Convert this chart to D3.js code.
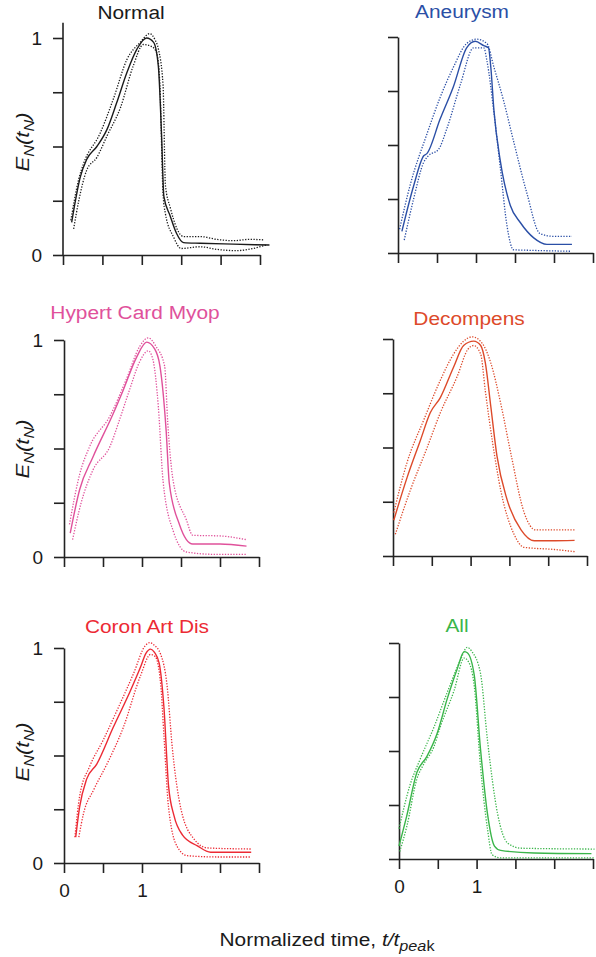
<!DOCTYPE html>
<html>
<head>
<meta charset="utf-8">
<script src="https://cdn.jsdelivr.net/npm/d3@7"></script>
<style>
  body { margin: 0; background: #fff; }
  text { font-family: "Liberation Sans", Arial, sans-serif; }
</style>
</head>
<body>
<div id="chart"></div>
<script>
// ticks
let xTicks = [0, 0.5, 1, 1.5, 2, 2.5];
let yTicks = [0, 0.25, 0.5, 0.75, 1];

// [t, E] pairs
let normalMean = [[0.11,0.15],[0.22,0.36],[0.30,0.44],[0.43,0.50],[0.56,0.58],[0.68,0.70],[0.81,0.84],[0.94,0.95],[1.06,1.0],[1.15,0.98],[1.21,0.87],[1.25,0.56],[1.28,0.27],[1.36,0.18],[1.44,0.10],[1.53,0.057],[1.74,0.054],[2.16,0.05],[2.62,0.046]];
let normalUpper = [[0.10,0.16],[0.20,0.35],[0.26,0.42],[0.47,0.56],[0.64,0.72],[0.81,0.90],[0.98,0.98],[1.10,1.02],[1.17,0.99],[1.21,0.95],[1.27,0.78],[1.30,0.32],[1.36,0.22],[1.53,0.085],[1.74,0.085],[1.95,0.072],[2.16,0.066],[2.37,0.072],[2.54,0.07]];
let normalLower = [[0.135,0.12],[0.20,0.25],[0.30,0.39],[0.43,0.45],[0.56,0.55],[0.73,0.68],[0.89,0.87],[1.02,0.97],[1.13,0.96],[1.19,0.93],[1.23,0.78],[1.27,0.28],[1.30,0.19],[1.40,0.085],[1.50,0.03],[1.74,0.038],[1.95,0.026],[2.20,0.02],[2.41,0.03],[2.58,0.046]];

let aneurysmMean = [[0.05,0.10],[0.20,0.31],[0.33,0.45],[0.37,0.46],[0.54,0.62],[0.71,0.77],[0.88,0.95],[0.99,0.98],[1.10,0.96],[1.16,0.95],[1.19,0.86],[1.23,0.66],[1.31,0.43],[1.44,0.22],[1.57,0.14],[1.74,0.07],[1.91,0.04],[2.23,0.04]];
let aneurysmUpper = [[0.02,0.11],[0.16,0.32],[0.37,0.55],[0.54,0.72],[0.71,0.86],[0.88,0.97],[1.01,0.99],[1.14,0.97],[1.23,0.86],[1.35,0.71],[1.48,0.52],[1.65,0.28],[1.82,0.09],[2.0,0.077],[2.23,0.077]];
let aneurysmLower = [[0.08,0.06],[0.20,0.25],[0.33,0.42],[0.39,0.45],[0.52,0.48],[0.63,0.58],[0.80,0.78],[0.97,0.95],[1.10,0.95],[1.14,0.89],[1.23,0.65],[1.31,0.40],[1.40,0.12],[1.48,0.015],[1.74,0.012],[2.21,0.008]];

let hypertMean = [[0.08,0.11],[0.20,0.31],[0.37,0.46],[0.63,0.66],[0.76,0.77],[0.93,0.92],[1.06,0.99],[1.16,0.96],[1.23,0.88],[1.31,0.58],[1.35,0.34],[1.48,0.15],[1.65,0.06],[2.0,0.06],[2.34,0.05]];
let hypertUpper = [[0.07,0.15],[0.20,0.38],[0.33,0.51],[0.59,0.65],[0.80,0.82],[0.97,0.97],[1.08,1.01],[1.18,0.97],[1.29,0.88],[1.33,0.62],[1.40,0.35],[1.57,0.17],[1.65,0.10],[2.0,0.097],[2.34,0.08]];
let hypertLower = [[0.11,0.08],[0.22,0.25],[0.37,0.40],[0.59,0.51],[0.71,0.63],[0.84,0.77],[0.97,0.90],[1.08,0.95],[1.14,0.91],[1.21,0.69],[1.27,0.35],[1.40,0.12],[1.57,0.023],[1.95,0.012],[2.34,0.012]];

let decompMean = [[0.01,0.165],[0.18,0.36],[0.35,0.53],[0.48,0.66],[0.61,0.73],[0.78,0.87],[0.91,0.97],[1.04,0.99],[1.13,0.97],[1.19,0.89],[1.26,0.69],[1.34,0.46],[1.47,0.26],[1.65,0.12],[1.82,0.07],[2.03,0.07],[2.34,0.072]];
let decompUpper = [[0.01,0.20],[0.18,0.43],[0.40,0.63],[0.61,0.81],[0.78,0.93],[0.91,0.99],[1.02,1.01],[1.15,0.98],[1.26,0.89],[1.39,0.70],[1.52,0.47],[1.69,0.20],[1.84,0.12],[2.34,0.12]];
let decompLower = [[0.03,0.10],[0.22,0.30],[0.44,0.50],[0.61,0.66],[0.83,0.83],[0.96,0.95],[1.04,0.97],[1.13,0.93],[1.19,0.76],[1.28,0.53],[1.39,0.30],[1.56,0.10],[1.69,0.04],[2.08,0.03],[2.34,0.02]];

let coronMean = [[0.15,0.12],[0.20,0.26],[0.29,0.39],[0.42,0.46],[0.63,0.63],[0.85,0.80],[0.98,0.91],[1.05,0.975],[1.11,0.995],[1.16,0.98],[1.22,0.93],[1.28,0.73],[1.34,0.36],[1.41,0.22],[1.52,0.13],[1.71,0.08],[1.88,0.05],[2.40,0.05]];
let coronUpper = [[0.14,0.12],[0.20,0.31],[0.33,0.45],[0.50,0.57],[0.68,0.71],[0.89,0.88],[1.04,1.01],[1.10,1.025],[1.15,1.015],[1.24,0.97],[1.32,0.83],[1.39,0.53],[1.50,0.25],[1.67,0.11],[1.84,0.07],[2.40,0.065]];
let coronLower = [[0.19,0.12],[0.25,0.23],[0.38,0.34],[0.55,0.46],[0.76,0.63],[0.98,0.87],[1.11,0.97],[1.17,0.96],[1.24,0.83],[1.28,0.60],[1.34,0.26],[1.45,0.077],[1.58,0.034],[1.97,0.028],[2.40,0.028]];

let allMean = [[0.0,0.06],[0.10,0.20],[0.23,0.40],[0.36,0.475],[0.49,0.58],[0.62,0.74],[0.75,0.88],[0.84,0.96],[0.88,0.955],[0.97,0.85],[1.05,0.51],[1.14,0.21],[1.23,0.06],[1.31,0.04],[1.74,0.028],[2.48,0.025]];
let allUpper = [[0.0,0.14],[0.14,0.34],[0.27,0.46],[0.45,0.61],[0.62,0.77],[0.79,0.92],[0.88,0.98],[0.94,0.96],[1.05,0.86],[1.14,0.55],[1.27,0.21],[1.40,0.074],[1.57,0.05],[2.52,0.046]];
let allLower = [[0.01,0.035],[0.10,0.15],[0.23,0.37],[0.32,0.44],[0.45,0.52],[0.53,0.61],[0.71,0.78],[0.84,0.93],[0.90,0.91],[0.97,0.80],[1.05,0.43],[1.14,0.14],[1.20,0.02],[1.31,0.005],[2.52,0.005]];

// panel layout (pixels)
let panels = [
  {title: "Normal", color: "#1a1a1a", mean: normalMean, upper: normalUpper, lower: normalLower,
   x0: 63, x1: 260, y0: 255, y1: 38, yTop: 1.07, tx: 131, ty: 18.5, ly: 142, left: true, bottom: false},
  {title: "Aneurysm", color: "#2b4fa6", mean: aneurysmMean, upper: aneurysmUpper, lower: aneurysmLower,
   x0: 398, x1: 593, y0: 253, y1: 37, yTop: 1, tx: 462, ty: 17.5, left: false, bottom: false},
  {title: "Hypert Card Myop", color: "#e0519b", mean: hypertMean, upper: hypertUpper, lower: hypertLower,
   x0: 64, x1: 259, y0: 557, y1: 340, yTop: 1, tx: 135, ty: 319, ly: 449, left: true, bottom: false},
  {title: "Decompens", color: "#dd4a2a", mean: decompMean, upper: decompUpper, lower: decompLower,
   x0: 393, x1: 587, y0: 556, y1: 339, yTop: 1, tx: 469, ty: 325, left: false, bottom: false},
  {title: "Coron Art Dis", color: "#ec2a34", mean: coronMean, upper: coronUpper, lower: coronLower,
   x0: 64, x1: 259, y0: 863, y1: 648, yTop: 1, tx: 147, ty: 633, ly: 752, left: true, bottom: true},
  {title: "All", color: "#3ab54a", mean: allMean, upper: allUpper, lower: allLower,
   x0: 399, x1: 593, y0: 859, y1: 643, yTop: 1, tx: 457, ty: 632, left: false, bottom: true}
];

// the figure's lettering is a little wider than Arial
let stretch = 1.16;

let svg = d3.select("#chart").append("svg")
    .attr("width", 596)
    .attr("height", 957);

panels.forEach(p => {
    let xScale = d3.scaleLinear().domain([0, 2.5]).range([p.x0, p.x1]);
    let yScale = d3.scaleLinear().domain([0, 1]).range([p.y0, p.y1]);
    let g = svg.append("g");

    let xAxis = d3.axisBottom(xScale)
        .tickValues(xTicks)
        .tickSize(10)
        .tickSizeOuter(0)
        .tickPadding(11)
        .tickFormat(d => p.bottom && (d === 0 || d === 1) ? d : "");
    let yAxis = d3.axisLeft(yScale)
        .tickValues(yTicks)
        .tickSize(10)
        .tickSizeOuter(0)
        .tickPadding(11)
        .tickFormat(d => p.left && (d === 0 || d === 1) ? d : "");

    let gx = g.append("g")
        .attr("transform", `translate(0,${p.y0})`)
        .call(xAxis);
    let gy = g.append("g")
        .attr("transform", `translate(${p.x0},0)`)
        .call(yAxis);

    // first panel's y axis runs a bit above 1
    if (p.yTop > 1) {
        gy.select(".domain").attr("d", `M0,${p.y0}V${yScale(p.yTop)}`);
    }

    [gx, gy].forEach(a => {
        a.selectAll(".domain, .tick line").attr("stroke", "#222").attr("stroke-width", 1.6);
        a.selectAll("text").attr("font-size", 19).attr("fill", "#1a1a1a")
            .style("font-family", "'Liberation Sans', Arial, sans-serif");
    });

    let line = d3.line()
        .x(d => xScale(d[0]))
        .y(d => yScale(d[1]))
        .curve(d3.curveMonotoneX);

    [p.upper, p.lower].forEach(s => {
        g.append("path")
            .attr("d", line(s))
            .attr("fill", "none")
            .attr("stroke", p.color)
            .attr("stroke-width", 1.3)
            .attr("stroke-dasharray", "1.3,1.5");
    });
    g.append("path")
        .attr("d", line(p.mean))
        .attr("fill", "none")
        .attr("stroke", p.color)
        .attr("stroke-width", 1.4);

    g.append("text")
        .attr("transform", `translate(${p.tx},${p.ty}) scale(${stretch},1)`)
        .attr("text-anchor", "middle")
        .attr("font-size", 18)
        .attr("fill", p.color)
        .text(p.title);

    if (p.left) {
        let lab = g.append("text")
            .attr("transform", `translate(29,${p.ly}) rotate(-90) scale(${stretch},1)`)
            .attr("text-anchor", "middle")
            .attr("font-size", 19)
            .attr("font-style", "italic")
            .attr("fill", "#1a1a1a");
        lab.append("tspan").text("E");
        lab.append("tspan").attr("font-size", 14).attr("dy", 5).text("N");
        lab.append("tspan").attr("dy", -5).text("(t");
        lab.append("tspan").attr("font-size", 14).attr("dy", 5).text("N");
        lab.append("tspan").attr("dy", -5).text(")");
    }
});

let xt = svg.append("text")
    .attr("transform", `translate(327,946) scale(${stretch},1)`)
    .attr("text-anchor", "middle")
    .attr("font-size", 18)
    .attr("fill", "#1a1a1a");
xt.append("tspan").text("Normalized time, ");
xt.append("tspan").attr("font-style", "italic").text("t/t");
xt.append("tspan").attr("font-style", "italic").attr("font-size", 14).attr("dy", 5).text("pea");
xt.append("tspan").attr("font-size", 14).text("k");
</script>
</body>
</html>
